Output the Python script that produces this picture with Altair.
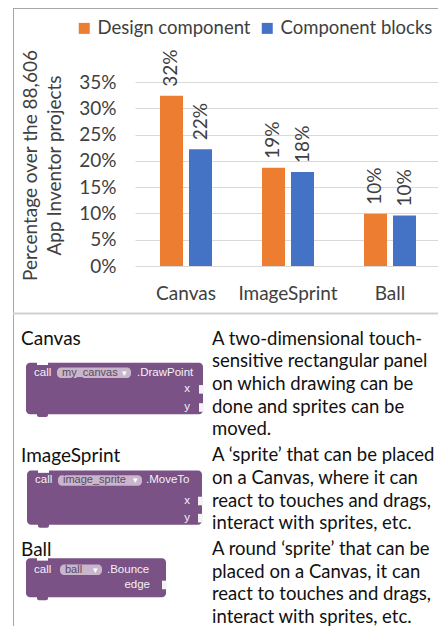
import altair as alt
import pandas as pd

# ---------------- data ----------------
categories = ["Canvas", "ImageSprint", "Ball"]
series_names = ["Design component", "Component blocks"]
design_share = [0.324, 0.187, 0.0995]
blocks_share = [0.222, 0.179, 0.096]
y_tick_values = [0.0, 0.05, 0.10, 0.15, 0.20, 0.25, 0.30, 0.35]
y_title_lines = ["Percentage over the 88,606", "App Inventor projects"]
series_colors = ["#ED7D31", "#4472C4"]

components = ["Canvas", "ImageSprint", "Ball"]
description_lines = [
    ["A two-dimensional touch-", "sensitive rectangular panel", "on which drawing can be",
     "done and sprites can be", "moved."],
    ["A \u2018sprite\u2019 that can be placed", "on a Canvas, where it can",
     "react to touches and drags,", "interact with sprites, etc."],
    ["A round \u2018sprite\u2019 that can be", "placed on a Canvas, it can",
     "react to touches and drags,", "interact with sprites, etc."],
]
block_objects = ["my_canvas", "image_sprite", "ball"]
block_methods = [".DrawPoint", ".MoveTo", ".Bounce"]
block_inputs = [["x", "y"], ["x", "y"], ["edge"]]

# ---------------- layout / style ----------------
FONT = "Lato"
BLOCK_FONT = "Liberation Sans"
INK = "#404040"
PURPLE = "#7A5285"
PILL = "#C9B6CC"
FS = 19

PLOT_LEFT, PLOT_TOP, PLOT_H = 135, 82, 184
BAND_RANGE = 306          # full category range of the reference plot
SVG_W, SVG_H = 430, 618   # visible page area (8px page margin)
PLOT_W = SVG_W - (PLOT_LEFT - 8)
PANEL_TOP, PANEL_BOTTOM_REF, PANEL_BOTTOM_PAGE = 313.5, 641, 8 + SVG_H

# page-pixel layout of the illustration panel (reference image coordinates)
block_geom = pd.DataFrame({
    "x0": [26, 27, 26], "x1": [203, 202, 166],
    "y0": [365, 478, 570], "y1": [419, 535, 611],
    "head": [375.5, 488.5, 582],
    "pill0": [57, 58, 60], "pill1": [131, 142, 102],
    "method_x": [137, 146, 107],
    "input_right": [190, 190, 150],
})
input_rows = [[393, 412], [510, 528], [598]]
TEXT_BASE, LINE_STEP, GROUP_GAP = 346, 23.8, 3.2
NAME_X, DESC_X = 21, 212

# ---------------- top bar chart ----------------
rows = []
for i, c in enumerate(categories):
    rows.append({"category": c, "series": series_names[0], "value": design_share[i]})
    rows.append({"category": c, "series": series_names[1], "value": blocks_share[i]})
df = pd.DataFrame(rows)

x_enc = alt.X("category:N", sort=categories,
              scale=alt.Scale(paddingInner=0, paddingOuter=0, range=[0, BAND_RANGE]),
              axis=alt.Axis(title=None, labelFont=FONT, labelFontSize=FS, labelColor=INK,
                            labelAngle=0, labelPadding=33, labelBaseline="alphabetic",
                            ticks=False, tickSize=0, domain=False, grid=False))
xo_enc = alt.XOffset("series:N", sort=series_names,
                     scale=alt.Scale(paddingInner=0.207, paddingOuter=0.862))
y_enc = alt.Y("value:Q", scale=alt.Scale(domain=[0, 0.35], nice=False),
              axis=alt.Axis(values=y_tick_values, format=".0%", title=y_title_lines,
                            labelFont=FONT, labelFontSize=FS, labelColor=INK, labelPadding=19,
                            ticks=False, tickSize=0, domain=False, grid=True,
                            gridColor="#D9D9D9", gridWidth=1,
                            titleFont=FONT, titleFontSize=FS, titleFontWeight="normal",
                            titleColor=INK, titleAngle=270, titleAlign="center",
                            titleBaseline="alphabetic", titleLineHeight=24,
                            titleX=36 - PLOT_LEFT, titleY=165 - PLOT_TOP))

base = alt.Chart(df)
bars = base.mark_bar().encode(
    x=x_enc, xOffset=xo_enc, y=y_enc,
    color=alt.Color("series:N", sort=series_names,
                    scale=alt.Scale(domain=series_names, range=series_colors),
                    legend=alt.Legend(orient="none", legendX=75 - PLOT_LEFT, legendY=19 - PLOT_TOP,
                                      direction="horizontal", title=None, symbolType="square",
                                      symbolSize=121, symbolStrokeWidth=0, symbolOpacity=1,
                                      labelFont=FONT, labelFontSize=18.5, labelColor=INK,
                                      labelOffset=4, columnPadding=7, padding=0)),
)
bar_labels = base.mark_text(angle=270, align="left", baseline="middle", dx=9,
                            font=FONT, fontSize=FS, color=INK).encode(
    x=x_enc, xOffset=xo_enc, y=y_enc,
    text=alt.Text("value:Q", format=".0%"),
)
top = alt.layer(bars, bar_labels)

# ---------------- frame (page scale 1:1) ----------------
xs = alt.Scale(domain=[0, 446], range=[-PLOT_LEFT, 446 - PLOT_LEFT], nice=False, zero=False)
ys_frame = alt.Scale(domain=[0, 641], range=[-PLOT_TOP, 641 - PLOT_TOP], nice=False, zero=False)
# illustration panel: reference rows fitted into the visible page height
ys_panel = alt.Scale(domain=[PANEL_TOP, PANEL_BOTTOM_REF],
                     range=[PANEL_TOP - PLOT_TOP, PANEL_BOTTOM_PAGE - PLOT_TOP],
                     nice=False, zero=False)


def PX(f):
    return alt.X(f"{f}:Q", scale=xs, axis=None)


def FY(f):
    return alt.Y(f"{f}:Q", scale=ys_frame, axis=None)


def PY(f):
    return alt.Y(f"{f}:Q", scale=ys_panel, axis=None)


frame = pd.DataFrame({"x0": [13, 13.5], "x1": [446, 13.5], "y0": [8.5, 8], "y1": [8.5, 641]})
sep = pd.DataFrame({"x0": [13], "x1": [446], "y0": [PANEL_TOP], "y1": [PANEL_TOP]})
frame_layer = alt.Chart(frame).mark_rule(color="#A6A6A6", strokeWidth=1).encode(
    x=PX("x0"), x2="x1", y=FY("y0"), y2="y1")
sep_layer = alt.Chart(sep).mark_rule(color="#D0D0D0", strokeWidth=2).encode(
    x=PX("x0"), x2="x1", y=FY("y0"), y2="y1")
frame_all = alt.layer(frame_layer, sep_layer)

# ---------------- bottom illustration panel ----------------
name_rows, desc_rows = [], []
line = 0
for g, (comp, lines) in enumerate(zip(components, description_lines)):
    name_rows.append({"text": comp, "y": TEXT_BASE + LINE_STEP * line + GROUP_GAP * g + 1})
    for t in lines:
        desc_rows.append({"text": t, "y": TEXT_BASE + LINE_STEP * line + GROUP_GAP * g})
        line += 1
names_layer = alt.Chart(pd.DataFrame(name_rows)).mark_text(
    align="left", baseline="alphabetic", font=FONT, fontSize=FS, color="#111111").encode(
    x=alt.value(NAME_X - PLOT_LEFT), y=PY("y"), text="text:N")
desc_layer = alt.Chart(pd.DataFrame(desc_rows)).mark_text(
    align="left", baseline="alphabetic", font=FONT, fontSize=18.5, color="#111111").encode(
    x=alt.value(DESC_X - PLOT_LEFT), y=PY("y"), text="text:N")

bg = block_geom.copy()
bg["obj"] = block_objects
bg["method"] = block_methods
bg["call"] = "call"
bg["n0"] = bg["x0"] + 11
bg["n1"] = bg["x0"] + 22
bg["ny0"] = bg["y0"] - 1
bg["ny1"] = bg["y0"] + 2.5
bg["ty0"] = bg["y1"] - 2
bg["ty1"] = bg["y1"] + 3
bg["ph0"] = bg["head"] - 5.5
bg["ph1"] = bg["head"] + 5.5
bg["callx"] = bg["x0"] + 8
bg["objx"] = bg["pill0"] + 5
bg["arrx"] = bg["pill1"] - 7
bg["arrow"] = "\u25BE"

inp = []
for i, rws in enumerate(input_rows):
    for name, yy in zip(block_inputs[i], rws):
        inp.append({"label": name, "y": yy, "xr": block_geom["input_right"][i],
                    "k0": block_geom["x1"][i] - 4, "k1": block_geom["x1"][i] + 1,
                    "ky0": yy - 4.5, "ky1": yy + 4.5})
inp = pd.DataFrame(inp)

BFS = 11.5
bchart = alt.Chart(bg)
block_body = bchart.mark_rect(color=PURPLE, cornerRadius=4).encode(
    x=PX("x0"), x2="x1", y=PY("y0"), y2="y1")
block_tab = bchart.mark_rect(color=PURPLE, cornerRadius=2).encode(
    x=PX("n0"), x2="n1", y=PY("ty0"), y2="ty1")
block_notch = bchart.mark_rect(color="white").encode(
    x=PX("n0"), x2="n1", y=PY("ny0"), y2="ny1")
block_pill = bchart.mark_rect(color=PILL, cornerRadius=4).encode(
    x=PX("pill0"), x2="pill1", y=PY("ph0"), y2="ph1")
call_txt = bchart.mark_text(align="left", baseline="middle", font=BLOCK_FONT, fontSize=BFS,
                            color="#F5F0F6").encode(x=PX("callx"), y=PY("head"), text="call:N")
method_txt = bchart.mark_text(align="left", baseline="middle", font=BLOCK_FONT, fontSize=BFS,
                              color="#F5F0F6").encode(x=PX("method_x"), y=PY("head"), text="method:N")
obj_txt = bchart.mark_text(align="left", baseline="middle", font=BLOCK_FONT, fontSize=11,
                           color="#5A4A5E").encode(x=PX("objx"), y=PY("head"), text="obj:N")
arr_txt = bchart.mark_text(align="center", baseline="middle", font=BLOCK_FONT, fontSize=9,
                           color="white").encode(x=PX("arrx"), y=PY("head"), text="arrow:N")
ichart = alt.Chart(inp)
inp_notch = ichart.mark_rect(color="#F4F4F4").encode(
    x=PX("k0"), x2="k1", y=PY("ky0"), y2="ky1")
inp_txt = ichart.mark_text(align="right", baseline="middle", font=BLOCK_FONT, fontSize=BFS,
                           color="#F5F0F6").encode(x=PX("xr"), y=PY("y"), text="label:N")

bottom = alt.layer(names_layer, desc_layer,
                   block_tab, block_body, block_notch, block_pill, inp_notch,
                   call_txt, method_txt, obj_txt, arr_txt, inp_txt)

chart = alt.layer(top, frame_all, bottom).resolve_scale(x="independent", y="independent").properties(
    width=PLOT_W, height=PLOT_H,
    autosize=alt.AutoSizeParams(type="none"),
    padding={"left": PLOT_LEFT - 8, "top": PLOT_TOP - 8,
             "right": 0,
             "bottom": SVG_H - (PLOT_TOP - 8) - PLOT_H},
    background="white",
).configure_view(stroke=None)

chart.save("out.html", embed_options={"renderer": "svg", "actions": False})
